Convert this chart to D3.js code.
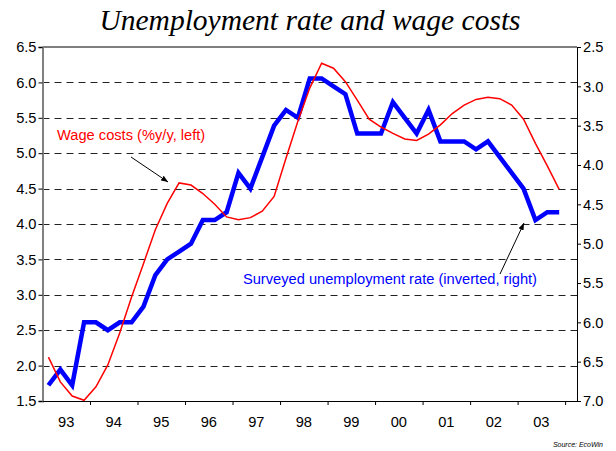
<!DOCTYPE html>
<html lang="en">
<head>
<meta charset="utf-8"/>
<title>Unemployment rate and wage costs</title>
<script src="https://d3js.org/d3.v7.min.js"></script>
<style>
  body { margin: 0; background: #fff; }
  text { font-family: "Liberation Sans", Arial, sans-serif; }
  .grid line { stroke: #222; stroke-dasharray: 7,5; }
</style>
</head>
<body>
<svg id="chart" width="616" height="451"></svg>
<script>
// quarterly data, 1993Q1 .. 2003Q4
var firstYear = 1993;
var wageCosts = [2.12, 1.77, 1.57, 1.51, 1.70, 2.01, 2.46, 2.97, 3.44, 3.92, 4.29, 4.58,
  4.55, 4.43, 4.28, 4.10, 4.06, 4.09, 4.18, 4.39, 4.93, 5.45, 5.92, 6.27,
  6.20, 6.01, 5.75, 5.48, 5.37, 5.28, 5.20, 5.18, 5.27, 5.40, 5.56, 5.68,
  5.76, 5.79, 5.77, 5.68, 5.48, 5.14, 4.82, 4.49];
var unemployment = [6.8, 6.6, 6.8, 6.0, 6.0, 6.1, 6.0, 6.0, 5.8, 5.4, 5.2, 5.1,
  5.0, 4.7, 4.7, 4.6, 4.1, 4.3, 3.9, 3.5, 3.3, 3.4, 2.9, 2.9,
  3.0, 3.1, 3.6, 3.6, 3.6, 3.2, 3.4, 3.6, 3.3, 3.7, 3.7, 3.7,
  3.8, 3.7, 3.9, 4.1, 4.3, 4.7, 4.6, 4.6];
var yearLabels = ["93", "94", "95", "96", "97", "98", "99", "00", "01", "02", "03"];
var leftTicks = [1.5, 2.0, 2.5, 3.0, 3.5, 4.0, 4.5, 5.0, 5.5, 6.0, 6.5];
var rightTicks = [2.5, 3.0, 3.5, 4.0, 4.5, 5.0, 5.5, 6.0, 6.5, 7.0];

var svg = d3.select("#chart");
var m = {left: 42.5, right: 577, top: 47, bottom: 401};
var fs = "14.67px";

var x = d3.scaleLinear().domain([firstYear, 2004.25]).range([m.left, m.right]);
var yL = d3.scaleLinear().domain([1.5, 6.5]).range([m.bottom, m.top]);
var yR = d3.scaleLinear().domain([2.5, 7.0]).range([m.top, m.bottom]); // inverted

function qdate(i) { return firstYear + i / 4 + 0.125; }

// title
svg.append("text")
  .attr("x", 310).attr("y", 30)
  .attr("text-anchor", "middle")
  .style("font-family", "'Liberation Serif', 'Times New Roman', serif")
  .style("font-style", "italic")
  .style("font-size", "29.5px")
  .text("Unemployment rate and wage costs");

// dashed grid
svg.append("g").attr("class", "grid")
  .selectAll("line")
  .data(leftTicks.slice(1, -1))
  .enter().append("line")
    .attr("x1", m.left).attr("x2", m.right)
    .attr("y1", function(d) { return Math.round(yL(d)) + 0.5; })
    .attr("y2", function(d) { return Math.round(yL(d)) + 0.5; });

// top border
svg.append("line").attr("x1", m.left).attr("x2", m.right).attr("y1", m.top).attr("y2", m.top)
  .attr("stroke", "#000");

// left axis
var axL = svg.append("g")
  .attr("transform", "translate(" + m.left + ",0)")
  .call(d3.axisLeft(yL).tickValues(leftTicks).tickFormat(d3.format(".1f")).tickSize(4).tickPadding(2));
axL.select(".domain").attr("stroke", "#808080").attr("stroke-width", 2);
axL.selectAll("text").style("font-size", fs).attr("fill", "#000");

// right axis
var axR = svg.append("g")
  .attr("transform", "translate(" + m.right + ",0)")
  .call(d3.axisRight(yR).tickValues(rightTicks).tickFormat(d3.format(".1f")).tickSize(4).tickPadding(2));
axR.selectAll("text").style("font-size", fs).attr("fill", "#000");

// bottom axis: ticks at year boundaries, labels mid-year
var yearBounds = d3.range(firstYear + 1, firstYear + yearLabels.length + 1);
var axB = svg.append("g")
  .attr("transform", "translate(0," + m.bottom + ")")
  .call(d3.axisBottom(x).tickValues(yearBounds).tickFormat("").tickSize(4).tickSizeOuter(0));
axB.select(".domain").attr("stroke", "#000");
svg.append("g").selectAll("text")
  .data(yearLabels)
  .enter().append("text")
    .attr("x", function(d, i) { return x(firstYear + i + 0.5); })
    .attr("y", 427)
    .attr("text-anchor", "middle")
    .style("font-size", fs)
    .text(function(d) { return d; });

// lines
var wageLine = d3.line()
  .x(function(d, i) { return x(qdate(i)); })
  .y(function(d) { return yL(d); });
var unempLine = d3.line()
  .x(function(d, i) { return x(qdate(i)); })
  .y(function(d) { return yR(d); });

svg.append("path").datum(unemployment)
  .attr("d", unempLine)
  .attr("fill", "none").attr("stroke", "#0000ff")
  .attr("stroke-width", 4.5).attr("stroke-linejoin", "miter");

svg.append("path").datum(wageCosts)
  .attr("d", wageLine)
  .attr("fill", "none").attr("stroke", "#ff0000")
  .attr("stroke-width", 1.5);

// annotations
svg.append("defs").append("marker")
  .attr("id", "arrow")
  .attr("viewBox", "0 0 10 10")
  .attr("refX", 10).attr("refY", 5)
  .attr("markerWidth", 7).attr("markerHeight", 7)
  .attr("orient", "auto")
  .append("path").attr("d", "M0,1L10,5L0,9z").attr("fill", "#000");

svg.append("text")
  .attr("x", 57).attr("y", 140)
  .attr("fill", "#ff0000")
  .style("font-size", fs)
  .text("Wage costs (%y/y, left)");
svg.append("line")
  .attr("x1", 131).attr("y1", 157).attr("x2", 168).attr("y2", 182)
  .attr("stroke", "#000").attr("stroke-width", 1)
  .attr("marker-end", "url(#arrow)");

svg.append("text")
  .attr("x", 537).attr("y", 284)
  .attr("text-anchor", "end")
  .attr("fill", "#0000ff")
  .style("font-size", fs)
  .text("Surveyed unemployment rate (inverted, right)");
svg.append("line")
  .attr("x1", 500).attr("y1", 274).attr("x2", 524).attr("y2", 223)
  .attr("stroke", "#000").attr("stroke-width", 1)
  .attr("marker-end", "url(#arrow)");

// source
svg.append("text")
  .attr("x", 603).attr("y", 447)
  .attr("text-anchor", "end")
  .style("font-size", "7px")
  .style("font-style", "italic")
  .text("Source: EcoWin");
</script>
</body>
</html>
